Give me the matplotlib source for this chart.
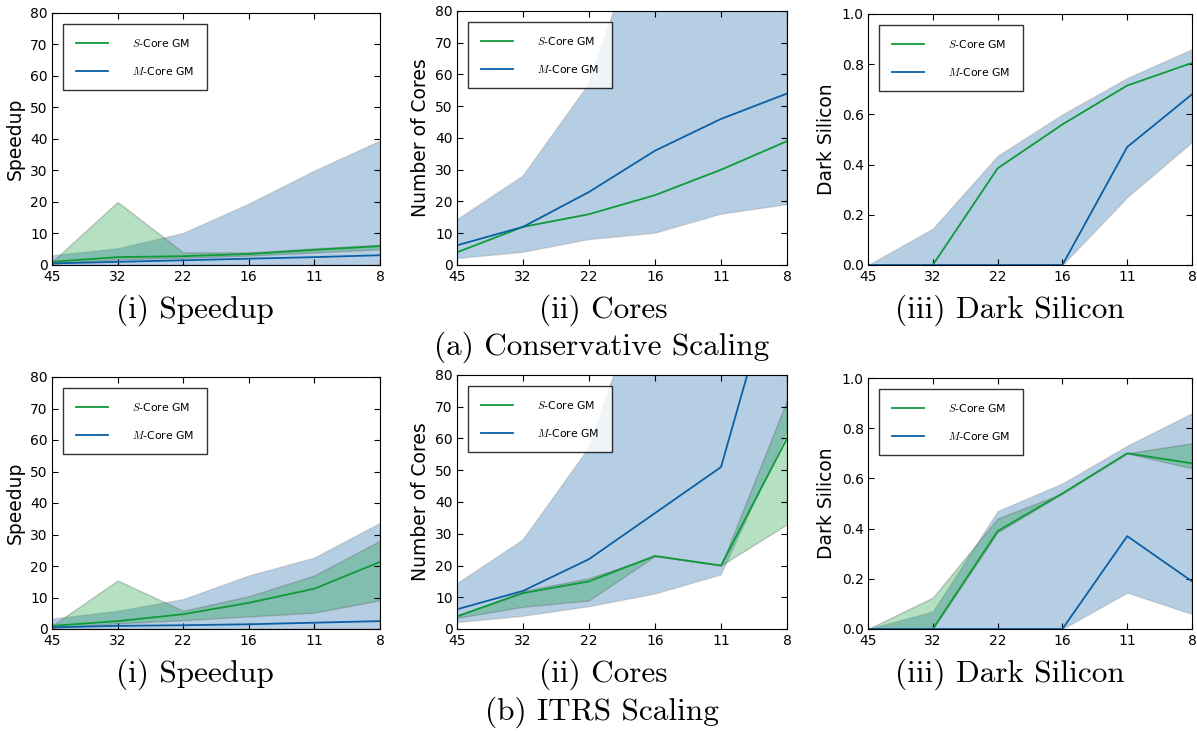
import numpy as np
import matplotlib
matplotlib.use("Agg")
import matplotlib.pyplot as plt

# technology nodes (nm)
nodes = ["45", "32", "22", "16", "11", "8"]

# (a) Conservative scaling
cons_speed_s = [1.0, 2.5, 2.8, 3.5, 4.8, 6.0]
cons_speed_s_lo = [0.5, 1.8, 2.3, 3.0, 4.0, 5.0]
cons_speed_s_hi = [1.0, 20.0, 4.0, 4.0, 5.3, 6.4]
cons_speed_m = [0.5, 1.0, 1.5, 2.0, 2.5, 3.1]
cons_speed_m_lo = [0.1, 0.1, 0.1, 0.1, 0.1, 0.1]
cons_speed_m_hi = [3.1, 5.3, 10.2, 19.5, 30.0, 39.5]

cons_cores_s = [4.0, 12.0, 16.0, 22.0, 30.0, 39.0]
cons_cores_m = [6.2, 12.0, 23.0, 36.0, 46.0, 54.0]
cons_cores_m_lo = [2.0, 4.0, 8.0, 10.0, 16.0, 19.0]
cons_cores_m_hi = [14.2, 28.0, 57.0, 118.0, 180.0, 250.0]

cons_dark_s = [0.0, 0.0, 0.385, 0.56, 0.715, 0.805]
cons_dark_m = [0.0, 0.0, 0.0, 0.0, 0.47, 0.68]
cons_dark_m_lo = [0.0, 0.0, 0.0, 0.0, 0.27, 0.49]
cons_dark_m_hi = [0.0, 0.145, 0.435, 0.60, 0.745, 0.86]

# (b) ITRS scaling
itrs_speed_s = [1.0, 2.5, 4.7, 8.3, 12.8, 21.3]
itrs_speed_s_lo = [0.5, 1.8, 2.8, 4.0, 5.2, 9.1]
itrs_speed_s_hi = [1.0, 15.4, 5.8, 10.4, 17.0, 28.0]
itrs_speed_m = [0.5, 1.0, 1.2, 1.5, 2.0, 2.5]
itrs_speed_m_lo = [0.1, 0.1, 0.1, 0.1, 0.1, 0.1]
itrs_speed_m_hi = [3.3, 5.8, 9.5, 17.0, 22.7, 33.7]

itrs_cores_s = [4.0, 11.3, 15.0, 23.0, 20.0, 60.0]
itrs_cores_s_lo = [3.5, 7.0, 9.0, 23.0, 20.0, 33.0]
itrs_cores_s_hi = [4.0, 12.0, 16.0, 23.0, 20.0, 72.0]
itrs_cores_m = [6.2, 12.0, 22.0, 36.5, 51.0, 124.0]
itrs_cores_m_lo = [2.0, 4.0, 7.0, 11.0, 17.0, 62.0]
itrs_cores_m_hi = [14.2, 28.0, 57.0, 118.0, 180.0, 250.0]

itrs_dark_s = [0.0, 0.0, 0.39, 0.54, 0.70, 0.66]
itrs_dark_s_lo = [0.0, 0.0, 0.385, 0.54, 0.70, 0.64]
itrs_dark_s_hi = [0.0, 0.125, 0.44, 0.54, 0.70, 0.74]
itrs_dark_m = [0.0, 0.0, 0.0, 0.0, 0.37, 0.19]
itrs_dark_m_lo = [0.0, 0.0, 0.0, 0.0, 0.145, 0.06]
itrs_dark_m_hi = [0.0, 0.07, 0.47, 0.58, 0.73, 0.86]

green = "#0f9a38"
blue = "#0b5fa5"

plt.rcParams["mathtext.fontset"] = "cm"
plt.rcParams["xtick.direction"] = "in"
plt.rcParams["ytick.direction"] = "in"
plt.rcParams["xtick.top"] = True
plt.rcParams["ytick.right"] = True
plt.rcParams["xtick.major.size"] = 4
plt.rcParams["ytick.major.size"] = 4
plt.rcParams["xtick.labelsize"] = 10
plt.rcParams["ytick.labelsize"] = 10
plt.rcParams["xtick.major.pad"] = 3.5
plt.rcParams["ytick.major.pad"] = 3

W, H = 1197, 731
fig = plt.figure(figsize=(W / 100, H / 100), dpi=100)


def px_axes(left, top, right, bottom):
    return fig.add_axes([left / W, 1 - bottom / H, (right - left) / W, (bottom - top) / H])


def panel(ax, s, m, m_lo, m_hi, ylabel, ylim, yticks, s_lo=None, s_hi=None):
    x = np.arange(len(nodes))
    ax.fill_between(x, m_lo, m_hi, facecolor=blue, alpha=0.3, edgecolor="#888888", lw=1)
    if s_lo is not None:
        ax.fill_between(x, s_lo, s_hi, facecolor=green, alpha=0.3, edgecolor="#555555", lw=1)
    ax.plot(x, s, color=green, lw=1.3, label="$S$-Core GM")
    ax.plot(x, m, color=blue, lw=1.3, label="$M$-Core GM")
    ax.set_xlim(0, len(nodes) - 1)
    ax.set_ylim(*ylim)
    ax.set_xticks(x)
    ax.set_xticklabels(nodes)
    ax.set_yticks(yticks)
    ax.set_ylabel(ylabel, fontsize=13.5, labelpad=4)
    leg = ax.legend(loc="upper left", fontsize=7.8, handlelength=3.0, handletextpad=2.2,
                    borderpad=1.2, labelspacing=1.45, borderaxespad=1.0, fancybox=False)
    leg.get_frame().set_edgecolor("black")
    leg.get_frame().set_linewidth(1.0)


speed_ticks = np.arange(0, 81, 10)
dark_ticks = [0.0, 0.2, 0.4, 0.6, 0.8, 1.0]

ax = px_axes(52, 13, 380, 265)
panel(ax, cons_speed_s, cons_speed_m, cons_speed_m_lo, cons_speed_m_hi, "Speedup", (0, 80), speed_ticks,
      cons_speed_s_lo, cons_speed_s_hi)
ax = px_axes(457, 11, 787, 265)
panel(ax, cons_cores_s, cons_cores_m, cons_cores_m_lo, cons_cores_m_hi, "Number of Cores", (0, 80), speed_ticks)
ax = px_axes(868, 14, 1192, 265)
panel(ax, cons_dark_s, cons_dark_m, cons_dark_m_lo, cons_dark_m_hi, "Dark Silicon", (0, 1), dark_ticks)

ax = px_axes(52, 377, 380, 629)
panel(ax, itrs_speed_s, itrs_speed_m, itrs_speed_m_lo, itrs_speed_m_hi, "Speedup", (0, 80), speed_ticks,
      itrs_speed_s_lo, itrs_speed_s_hi)
ax = px_axes(457, 375, 787, 629)
panel(ax, itrs_cores_s, itrs_cores_m, itrs_cores_m_lo, itrs_cores_m_hi, "Number of Cores", (0, 80), speed_ticks,
      itrs_cores_s_lo, itrs_cores_s_hi)
ax = px_axes(868, 378, 1192, 629)
panel(ax, itrs_dark_s, itrs_dark_m, itrs_dark_m_lo, itrs_dark_m_hi, "Dark Silicon", (0, 1), dark_ticks,
      itrs_dark_s_lo, itrs_dark_s_hi)

# captions
cap = dict(fontname="cmr10", fontsize=22.5, ha="center", va="center")
for y in (310, 674):
    fig.text(195 / W, 1 - y / H, "(i) Speedup", **cap)
    fig.text(603 / W, 1 - y / H, "(ii) Cores", **cap)
    fig.text(1010 / W, 1 - y / H, "(iii) Dark Silicon", **cap)
fig.text(602 / W, 1 - 347 / H, "(a) Conservative Scaling", **cap)
fig.text(602 / W, 1 - 712 / H, "(b) ITRS Scaling", **cap)

fig.savefig("out.png", dpi=100)
